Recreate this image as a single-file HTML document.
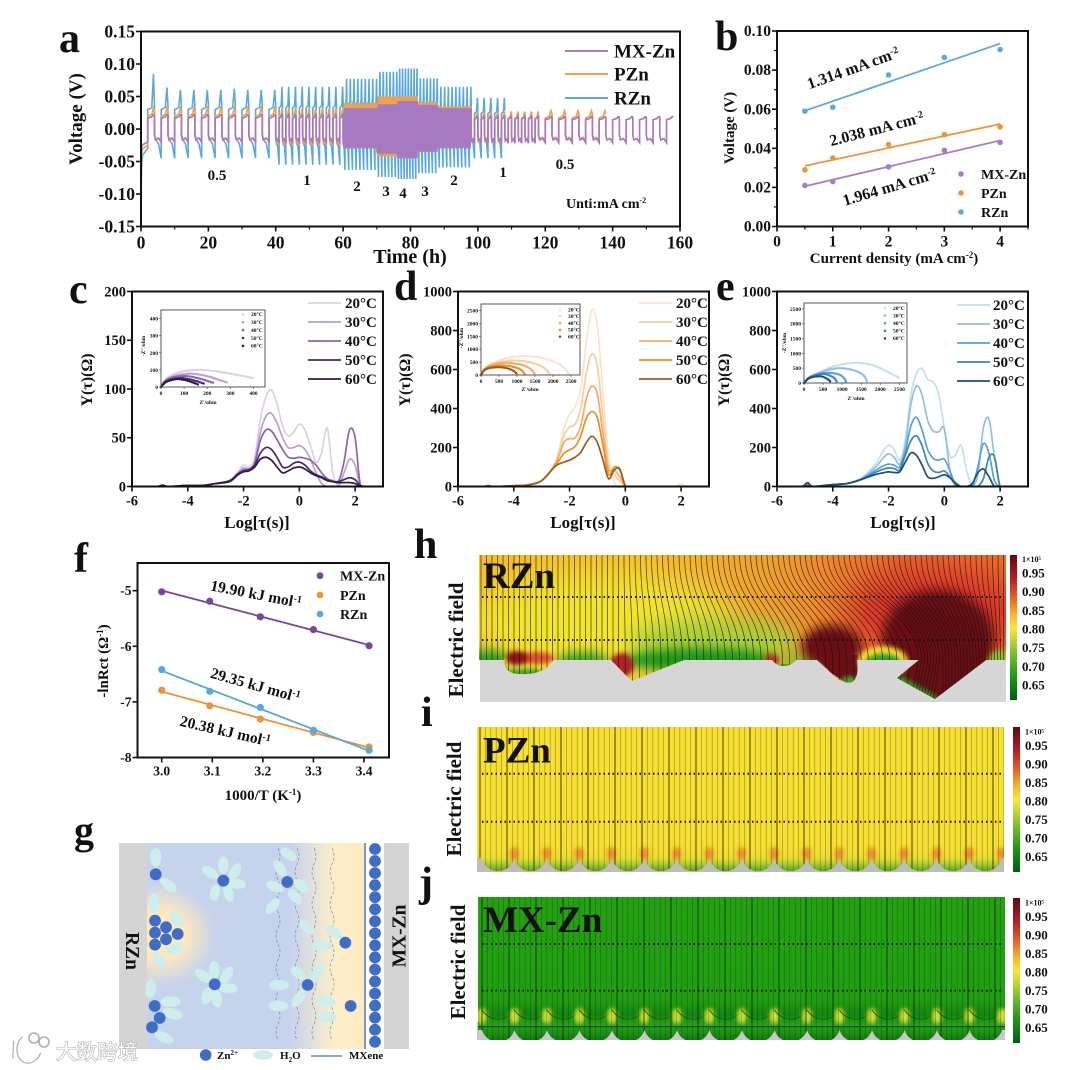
<!DOCTYPE html>
<html lang="en">
<head>
<meta charset="utf-8">
<title>Electrochemical performance figure</title>
<style>
html,body{margin:0;padding:0;background:#fff;}
svg{display:block;font-family:"Liberation Serif","Noto Sans CJK SC",serif;font-weight:bold;fill:#111;}
text{fill:#111;}
</style>
</head>
<body>
<svg id="fig" width="1080" height="1070" viewBox="0 0 1080 1070" xmlns="http://www.w3.org/2000/svg">
<defs>
  <filter id="b2" filterUnits="userSpaceOnUse" x="440" y="520" width="620" height="540"><feGaussianBlur stdDeviation="2"/></filter>
  <filter id="b5" filterUnits="userSpaceOnUse" x="440" y="520" width="620" height="240"><feGaussianBlur stdDeviation="5"/></filter>
  <filter id="b10" filterUnits="userSpaceOnUse" x="440" y="520" width="620" height="240"><feGaussianBlur stdDeviation="10"/></filter>
  <filter id="b16" filterUnits="userSpaceOnUse" x="440" y="500" width="640" height="280"><feGaussianBlur stdDeviation="16"/></filter>
  <linearGradient id="cbar" x1="0" y1="0" x2="0" y2="1">
    <stop offset="0" stop-color="#5e0a10"/><stop offset=".16" stop-color="#b31f26"/><stop offset=".3" stop-color="#e8652a"/>
    <stop offset=".41" stop-color="#f5b52c"/><stop offset=".5" stop-color="#f8e83a"/><stop offset=".6" stop-color="#b8d234"/>
    <stop offset=".72" stop-color="#5fb52c"/><stop offset=".85" stop-color="#1a9412"/><stop offset="1" stop-color="#005c18"/>
  </linearGradient>
  <linearGradient id="h-base" x1="0" y1="0" x2="1" y2="0">
    <stop offset="0" stop-color="#f6bd2c"/><stop offset=".3" stop-color="#f4bf2e"/><stop offset=".55" stop-color="#f0a02e"/>
    <stop offset=".8" stop-color="#ea6a2c"/><stop offset="1" stop-color="#e8702c"/>
  </linearGradient>
  <linearGradient id="i-bowl" x1="0" y1="0" x2="0" y2="1">
    <stop offset="0" stop-color="#f7df33"/><stop offset=".45" stop-color="#ecde33"/><stop offset=".7" stop-color="#a8cc34"/><stop offset="1" stop-color="#4f9f22"/>
  </linearGradient>
  <linearGradient id="j-field" x1="0" y1="0" x2="0" y2="1">
    <stop offset="0" stop-color="#24a012"/><stop offset=".72" stop-color="#229e12"/><stop offset=".82" stop-color="#148510"/><stop offset=".9" stop-color="#2aa518"/><stop offset="1" stop-color="#0f7a10"/>
  </linearGradient>
  <linearGradient id="g-bg" x1="0" y1="0" x2="1" y2="0">
    <stop offset="0" stop-color="#c5d3ec"/><stop offset=".66" stop-color="#c5d3ec"/><stop offset=".86" stop-color="#fdeec9"/><stop offset="1" stop-color="#fdeac0"/>
  </linearGradient>
  <radialGradient id="g-glow"><stop offset="0" stop-color="#ffe9b8"/><stop offset=".45" stop-color="#fde8bd"/><stop offset="1" stop-color="#fde8bd" stop-opacity="0"/></radialGradient>
  <clipPath id="g-clip"><rect x="147" y="843" width="217" height="206"/></clipPath>
  <clipPath id="a-clip"><rect x="141" y="31" width="539" height="196"/></clipPath>
  <clipPath id="c-clip"><rect x="132" y="291" width="251" height="196"/></clipPath>
  <clipPath id="d-clip"><rect x="458" y="291" width="252" height="196"/></clipPath>
  <clipPath id="e-clip"><rect x="777" y="291" width="251" height="196"/></clipPath>
  <clipPath id="h-clip"><path d="M479 555H1006V660H986L935 699L897 678L919 660H857C858 670 858 678 852 682C845 684 838 680 830 672L817 660H796C790 668 778 668 772 660H684L631.5 681L611 660H553C548 670 535 675 520 674C508 674 503 667 505 660H479Z"/></clipPath>
  <clipPath id="i-clip"><path id="i-clip-path" d="M477 727H1004V858H477Z"/></clipPath>
  <clipPath id="j-clip"><path id="j-clip-path" d="M478 897H1005V1030H478Z"/></clipPath>
</defs>

<rect width="1080" height="1070" fill="#fff"/>

<!-- panel letters -->
<g font-size="42">
  <text x="59" y="52">a</text>
  <text x="715" y="50">b</text>
  <text x="69" y="303">c</text>
  <text x="394" y="300">d</text>
  <text x="716" y="300">e</text>
  <text x="74" y="572">f</text>
  <text x="74" y="844" font-size="40">g</text>
  <text x="414" y="558">h</text>
  <text x="421" y="726">i</text>
  <text x="419" y="896">j</text>
</g>

<!-- panel a -->
<g id="panel-a">
  <g id="a-series" clip-path="url(#a-clip)"></g>
  <g id="a-axes"></g>
  <text transform="translate(82,119) rotate(-90)" font-size="19" text-anchor="middle">Voltage (V)</text>
  <text x="410" y="263" font-size="20" text-anchor="middle">Time (h)</text>
  <g font-size="19">
    <line x1="565" x2="608" y1="51" y2="51" stroke="#a87cc4" stroke-width="2"/>
    <text x="614" y="57.5">MX-Zn</text>
    <line x1="565" x2="608" y1="74" y2="74" stroke="#f0a24a" stroke-width="2"/>
    <text x="614" y="80.5">PZn</text>
    <line x1="565" x2="608" y1="98" y2="98" stroke="#5aa9dc" stroke-width="2"/>
    <text x="614" y="104.5">RZn</text>
  </g>
  <g font-size="15" text-anchor="middle">
    <text x="217" y="180">0.5</text>
    <text x="307" y="185">1</text>
    <text x="357" y="191">2</text>
    <text x="386" y="196">3</text>
    <text x="403" y="198">4</text>
    <text x="425" y="196">3</text>
    <text x="454" y="185">2</text>
    <text x="503" y="177">1</text>
    <text x="565" y="169">0.5</text>
  </g>
  <text x="566" y="208" font-size="14">Unti:mA cm<tspan dy="-5" font-size="8">-2</tspan></text>
</g>

<!-- panel b -->
<g id="panel-b">
  <g id="b-series"></g>
  <g id="b-axes"></g>
  <text transform="translate(734,128) rotate(-90)" font-size="15" text-anchor="middle">Voltage (V)</text>
  <text x="894" y="263" font-size="15" text-anchor="middle">Current density (mA cm<tspan dy="-5" font-size="9">-2</tspan><tspan dy="5">)</tspan></text>
  <g font-size="16" text-anchor="middle">
    <text transform="translate(855,73) rotate(-19.6)">1.314 mA cm<tspan dy="-5" font-size="10">-2</tspan></text>
    <text transform="translate(878,134) rotate(-14.5)">2.038 mA cm<tspan dy="-5" font-size="10">-2</tspan></text>
    <text transform="translate(891,192) rotate(-16.6)">1.964 mA cm<tspan dy="-5" font-size="10">-2</tspan></text>
  </g>
  <g font-size="14">
    <circle cx="961" cy="174" r="2.8" fill="#a87cc4"/>
    <text x="981" y="179">MX-Zn</text>
    <circle cx="961" cy="193" r="2.8" fill="#f0923a"/>
    <text x="981" y="198">PZn</text>
    <circle cx="961" cy="212" r="2.8" fill="#5aa9dc"/>
    <text x="981" y="217">RZn</text>
  </g>
</g>

<!-- panel c -->
<g id="panel-c">
  <g id="c-series" clip-path="url(#c-clip)"></g>
  <g id="c-axes"></g>
  <g id="c-inset"></g>
  <text transform="translate(92,380) rotate(-90)" font-size="16" text-anchor="middle">Y(τ)(Ω)</text>
  <text x="257" y="528" font-size="17" text-anchor="middle">Log[τ(s)]</text>
  <text x="208" y="404" font-size="5.5" text-anchor="middle">Z'/ohm</text>
  <text transform="translate(145,346) rotate(-90)" font-size="5.5" text-anchor="middle">-Z''/ohm</text>
</g>

<!-- panel d -->
<g id="panel-d">
  <g id="d-series" clip-path="url(#d-clip)"></g>
  <g id="d-axes"></g>
  <g id="d-inset"></g>
  <text transform="translate(410,380) rotate(-90)" font-size="16" text-anchor="middle">Y(τ)(Ω)</text>
  <text x="583" y="528" font-size="17" text-anchor="middle">Log[τ(s)]</text>
  <text x="530" y="391" font-size="5.5" text-anchor="middle">Z'/ohm</text>
  <text transform="translate(463,338) rotate(-90)" font-size="5.5" text-anchor="middle">-Z''/ohm</text>
</g>

<!-- panel e -->
<g id="panel-e">
  <g id="e-series" clip-path="url(#e-clip)"></g>
  <g id="e-axes"></g>
  <g id="e-inset"></g>
  <text transform="translate(729,380) rotate(-90)" font-size="16" text-anchor="middle">Y(τ)(Ω)</text>
  <text x="903" y="528" font-size="17" text-anchor="middle">Log[τ(s)]</text>
  <text x="856" y="400" font-size="5.5" text-anchor="middle">Z'/ohm</text>
  <text transform="translate(786,343) rotate(-90)" font-size="5.5" text-anchor="middle">-Z''/ohm</text>
</g>

<!-- panel f -->
<g id="panel-f">
  <g id="f-series"></g>
  <g id="f-axes"></g>
  <text transform="translate(108,661) rotate(-90)" font-size="15" text-anchor="middle">-lnRct (Ω<tspan dy="-5" font-size="9">-1</tspan><tspan dy="5">)</tspan></text>
  <text x="263" y="800" font-size="15" text-anchor="middle">1000/T (K<tspan dy="-5" font-size="9">-1</tspan><tspan dy="5">)</tspan></text>
  <g font-size="15.5" text-anchor="middle">
    <text transform="translate(255,599) rotate(11)">19.90 kJ mol<tspan dy="-5" font-size="10">-1</tspan></text>
    <text transform="translate(254,690) rotate(15.7)">29.35 kJ mol<tspan dy="-5" font-size="10">-1</tspan></text>
    <text transform="translate(224,736) rotate(13)">20.38 kJ mol<tspan dy="-5" font-size="10">-1</tspan></text>
  </g>
  <g font-size="14">
    <circle cx="320" cy="575.7" r="3.4" fill="#7a45a0"/>
    <text x="340" y="580.7">MX-Zn</text>
    <circle cx="320" cy="595" r="3.4" fill="#f0923a"/>
    <text x="340" y="600">PZn</text>
    <circle cx="320" cy="614" r="3.4" fill="#5aa9dc"/>
    <text x="340" y="619">RZn</text>
  </g>
</g>

<!-- panel g -->
<g id="panel-g">
  <rect x="119" y="843" width="290" height="206" fill="#d4d4d4"/>
  <rect x="147" y="843" width="217" height="206" fill="url(#g-bg)"/>
  <rect x="366" y="843" width="18" height="206" fill="#fff"/>
  <g clip-path="url(#g-clip)">
    <ellipse cx="160" cy="935" rx="56" ry="52" fill="url(#g-glow)"/>
  </g>
  <g id="g-waves"></g>
  <rect x="364" y="843" width="2" height="206" fill="#7d97c4"/>
  <g id="g-water"></g>
  <g id="g-ions"></g>
  <text transform="translate(126,951) rotate(90)" font-size="19.5" text-anchor="middle">RZn</text>
  <text transform="translate(405.5,936) rotate(-90)" font-size="19.5" text-anchor="middle">MX-Zn</text>
  <g font-size="11">
    <circle cx="205.7" cy="1055" r="5.8" fill="#3f6cc4"/>
    <text x="217" y="1059">Zn<tspan dy="-4" font-size="7">2+</tspan></text>
    <ellipse cx="263" cy="1055" rx="10" ry="4.7" fill="#cdeeea"/>
    <text x="280" y="1059">H<tspan dy="3" font-size="7">2</tspan><tspan dy="-3">O</tspan></text>
    <line x1="311" x2="342" y1="1056" y2="1056" stroke="#4a6fa8" stroke-width="1.2"/>
    <text x="349" y="1059">MXene</text>
  </g>
</g>

<!-- panel h -->
<g id="panel-h">
  <rect x="480" y="660" width="526" height="42" fill="#d6d6d6"/>
  <g clip-path="url(#h-clip)">
    <rect x="479" y="555" width="527" height="150" fill="url(#h-base)"/>
    <ellipse cx="600" cy="622" rx="135" ry="48" fill="#f2e52f" filter="url(#b16)"/>
    <ellipse cx="715" cy="642" rx="85" ry="24" fill="#a8cf38" filter="url(#b10)"/>
    <ellipse cx="935" cy="612" rx="90" ry="44" fill="#d9352a" filter="url(#b16)"/>
    <ellipse cx="700" cy="660" rx="75" ry="12" fill="#1f9a18" filter="url(#b5)"/>
    <ellipse cx="488" cy="660" rx="22" ry="10" fill="#2ca021" filter="url(#b5)"/>
    <ellipse cx="583" cy="661" rx="26" ry="9" fill="#3aa820" filter="url(#b5)"/>
    <ellipse cx="800" cy="660" rx="20" ry="6" fill="#88c030" filter="url(#b5)"/>
    <ellipse cx="832" cy="647" rx="30" ry="22" fill="#6a0f14" filter="url(#b5)"/>
    <ellipse cx="938" cy="640" rx="56" ry="50" fill="#6a0f14" filter="url(#b5)"/>
    <path d="M919 655L897 678L935 699L986 660V640H919Z" fill="#6a0f14"/>
    <path d="M817 655L830 672L848 684L858 680L858 655Z" fill="#6a0f14"/>
    <ellipse cx="528" cy="661" rx="24" ry="11" fill="#f2d82f" filter="url(#b2)"/>
    <ellipse cx="537" cy="658" rx="17" ry="6" fill="#e0552a" filter="url(#b2)"/>
    <ellipse cx="517" cy="658" rx="11" ry="7" fill="#8e1519" filter="url(#b2)"/>
    <ellipse cx="622" cy="665" rx="12" ry="12" fill="#b02028" filter="url(#b2)"/>
    <ellipse cx="772" cy="660" rx="7" ry="6" fill="#c0352a" filter="url(#b2)"/>
    <ellipse cx="883" cy="662" rx="25" ry="16" fill="#f2d82f" filter="url(#b2)"/>
    <ellipse cx="883" cy="663" rx="18" ry="9" fill="#2ca321" filter="url(#b2)"/>
    <ellipse cx="1000" cy="660" rx="11" ry="10" fill="#8cc030" filter="url(#b2)"/>
    <ellipse cx="525" cy="673" rx="20" ry="4" fill="#3aa820" filter="url(#b2)"/>
    <ellipse cx="785" cy="667" rx="10" ry="3" fill="#3aa820"/>
    <ellipse cx="850" cy="681" rx="9" ry="4.5" fill="#4aa828" filter="url(#b2)"/>
    <line x1="897" y1="678" x2="935" y2="699" stroke="#2a9f20" stroke-width="7" filter="url(#b2)"/>
    <g id="h-lines"></g>
  </g>
  <line x1="482" x2="1003" y1="597" y2="597" stroke="#111" stroke-width="2" stroke-dasharray="1.5 3"/>
  <line x1="482" x2="1003" y1="640" y2="640" stroke="#111" stroke-width="2" stroke-dasharray="1.5 3"/>
  <text x="483" y="588" font-size="37">RZn</text>
  <text transform="translate(463,640) rotate(-90)" font-size="21" text-anchor="middle">Electric field</text>
  <rect x="1010" y="555" width="7" height="145" fill="url(#cbar)"/>
  <g id="h-cbar"></g>
</g>

<!-- panel i -->
<g id="panel-i">
  <rect x="477" y="850" width="527" height="22" fill="#bdbdbd"/>
  <g clip-path="url(#i-clip)">
    <rect x="477" y="727" width="527" height="145" fill="#f7df33"/>
    <rect x="477" y="846" width="527" height="26" fill="url(#i-bowl)"/>
    <g id="i-glow"></g>
    <g id="i-lines"></g>
  </g>
  <line x1="482" x2="1001" y1="773.7" y2="773.7" stroke="#111" stroke-width="2" stroke-dasharray="1.5 3"/>
  <line x1="482" x2="1001" y1="821.7" y2="821.7" stroke="#111" stroke-width="2" stroke-dasharray="1.5 3"/>
  <text x="483" y="762.7" font-size="37">PZn</text>
  <text transform="translate(461,799) rotate(-90)" font-size="21" text-anchor="middle">Electric field</text>
  <rect x="1013" y="727" width="7" height="145" fill="url(#cbar)"/>
  <g id="i-cbar"></g>
</g>

<!-- panel j -->
<g id="panel-j">
  <rect x="477" y="1022" width="528" height="18" fill="#c8c8c8"/>
  <g clip-path="url(#j-clip)">
    <rect x="478" y="897" width="527" height="143" fill="url(#j-field)"/>
    <g id="j-glow"></g>
    <g id="j-lines"></g>
    <line x1="478" x2="1005" y1="1026.7" y2="1026.7" stroke="#0a3a0a" stroke-width="1"/>
  </g>
  <line x1="482" x2="1003" y1="944" y2="944" stroke="#111" stroke-width="2" stroke-dasharray="1.5 3"/>
  <line x1="482" x2="1003" y1="990.7" y2="990.7" stroke="#111" stroke-width="2" stroke-dasharray="1.5 3"/>
  <text x="483" y="932" font-size="37">MX-Zn</text>
  <text transform="translate(465,962) rotate(-90)" font-size="21" text-anchor="middle">Electric field</text>
  <rect x="1013" y="898" width="7" height="145" fill="url(#cbar)"/>
  <g id="j-cbar"></g>
</g>

<!-- watermark -->
<g opacity=".95">
  <path d="M13 1040L12 1058M22 1036C14 1042 14 1058 24 1062C32 1064 38 1058 40 1052" fill="none" stroke="#fff" stroke-width="4"/>
  <path d="M13 1040L12 1058M22 1036C14 1042 14 1058 24 1062C32 1064 38 1058 40 1052" fill="none" stroke="#aaa" stroke-width="1.2" transform="translate(.7,.7)"/>
  <circle cx="34" cy="1038" r="5" fill="none" stroke="#aaa" stroke-width="1.6"/>
  <circle cx="44" cy="1042" r="5" fill="none" stroke="#aaa" stroke-width="1.6"/>
  <text x="56" y="1059" font-size="20.5" font-family="'Liberation Sans','Noto Sans CJK SC',sans-serif" font-weight="normal" style="fill:#fff;stroke:#a8a8a8;stroke-width:1.1;paint-order:stroke">大数跨境</text>
</g>

<script>
/* ---------- panel a data ---------- */
const aXTickLabels = ['0','20','40','60','80','100','120','140','160'];
const aYTickLabels = ['0.15','0.10','0.05','0.00','-0.05','-0.10','-0.15'];
const segStart  = [0, 40, 60, 70, 76, 82, 88, 98, 118];
const segEnd    = [40, 60, 70, 76, 82, 88, 98, 118, 158];
const rznPeriod = [4, 2, 1.15, 1, 0.85, 1, 1.15, 2, 4];
const densePeriod = [4, 2, 0.6, 0.5, 0.4, 0.5, 0.6, 2, 4];
const rznPos = [0.060,0.065,0.077,0.088,0.093,0.078,0.065,0.048,0];
const rznNeg = [-0.045,-0.055,-0.063,-0.074,-0.077,-0.068,-0.059,-0.045,0];
const pznPos = [0.032,0.032,0.040,0.050,0.050,0.041,0.035,0.027,0.028];
const pznNeg = [-0.020,-0.025,-0.030,-0.042,-0.045,-0.035,-0.030,-0.022,-0.018];
const mxPos  = [0.022,0.022,0.032,0.038,0.043,0.037,0.032,0.020,0.019];
const mxNeg  = [-0.020,-0.022,-0.030,-0.038,-0.045,-0.035,-0.030,-0.022,-0.021];
const rznFirstPeaks = [0.085,0.064,0.060,0.060,0.060,0.060,0.062,0.060,0.060,0.060];
const rznInitT = [0,0.15,0.5,2];
const rznInitV = [-0.135,-0.06,-0.04,-0.03];
const pznInitT = [0,0.15,0.5,2];
const pznInitV = [-0.10,-0.04,-0.03,-0.025];
const mxInitT  = [0,0.15,0.5,2];
const mxInitV  = [-0.05,-0.028,-0.024,-0.02];
const halfPhase = [0,0.15,0.6,1];
const plateauPhase = [0,0.6,0.85,1];
const rznNegShape = [0.2,0.35,0.5,1];
const rznPosShape = [0.5,0.55,1,0.6];
const pznNegShape = [0.45,0.85,0.7,1];
const pznPosShape = [0.6,0.7,1,0.85];
const mxNegShape  = [0.45,0.8,0.7,1];
const mxPosShape  = [0.75,0.85,1,0.95];
const rznEndTime = 108, pznEndTime = 138, mxEndTime = 158;

/* ---------- panel b data ---------- */
const bCurrent = [0.5,1,2,3,4];
const bRzn = [0.059,0.061,0.0775,0.0865,0.0905];
const bPzn = [0.029,0.035,0.042,0.047,0.051];
const bMx  = [0.021,0.023,0.0305,0.039,0.043];
const bXTickLabels = ['0','1','2','3','4'];
const bYTickLabels = ['0.00','0.02','0.04','0.06','0.08','0.10'];

/* ---------- panels c/d/e data ---------- */
const tauGrid = [-5.5,-5.1,-4.9,-4.7,-4,-3.5,-3,-2.5,-2.2,-2,-1.8,-1.6,-1.4,-1.2,-1,-0.8,-0.6,-0.4,-0.2,0,0.2,0.4,0.6,0.8,1,1.2,1.4,1.6,1.8,2,2.2,2.5];
const drtXTickLabels = ['-6','-4','-2','0','2'];
const cYTickLabels = ['0','50','100','150','200'];
const dYTickLabels = ['0','200','400','600','800','1000'];
const c20 = [0,0,1,0,1,1,3,6,15,22,20,30,68,92,99,85,62,52,56,64,58,42,25,35,60,15,0,0,0,0,0,0];
const c30 = [0,0,1,0,1,1,3,6,14,19,18,25,55,72,75,65,50,40,40,42,38,28,14,3,0,0,0,14,28,22,0,0];
const c40 = [0,0,1,0,1,1,3,6,13,17,18,24,47,58,57,48,38,30,29,30,29,27,22,14,8,6,5,25,58,50,0,0];
const c50 = [0,0,1.5,0,1,1,3,6,13,16,17,22,34,40,38,30,20,20,24,25,22,16,12,10,7,5,5,7,9,7,1,0];
const c60 = [0,0,1,0,1,1,3,5,12,15,16,20,28,30,27,20,14,16,19,20,18,14,11,9,6,5,4,4,4,3,0,0];
const d20 = [0,0,5,0,5,8,32,130,300,370,410,500,740,905,820,470,150,20,0,0,0,0,0,0,0,0,0,0,0,15,0,0];
const d30 = [0,0,4,0,4,8,32,125,260,305,320,400,580,680,610,350,110,60,30,0,0,0,0,0,0,0,0,0,0,3,0,0];
const d40 = [0,0,4,0,4,8,30,118,225,245,250,310,450,515,470,270,90,85,50,3,0,0,0,0,0,0,0,0,0,0,0,0];
const d50 = [0,0,4,0,4,8,30,110,170,188,205,260,350,385,350,210,62,100,85,5,0,0,0,0,0,0,0,0,0,0,0,0];
const d60 = [0,0,4,0,4,8,30,105,125,135,150,175,225,258,225,135,40,85,90,3,0,0,0,0,0,0,0,0,0,0,0,0];
const e20 = [0,0,6,0,8,15,40,110,180,212,190,135,240,470,580,605,550,535,470,300,160,160,210,80,0,0,0,0,0,0,0,0];
const e30 = [0,0,6,0,8,15,40,95,145,168,150,115,210,420,515,470,340,285,280,295,80,0,0,0,0,60,300,345,150,0,0,0];
const e40 = [0,0,8,0,10,15,35,80,105,115,110,100,180,310,355,290,190,145,135,140,80,10,0,0,0,100,220,170,30,0,0,0];
const e50 = [0,0,10,0,10,15,35,70,88,95,92,85,160,235,260,210,120,80,72,80,50,20,0,0,0,0,40,150,150,0,0,0];
const e60 = [0,0,20,0,10,15,35,60,70,75,72,75,125,172,160,110,50,42,50,60,45,15,0,0,15,70,90,50,0,0,0,0];
const tempLabels = ['20°C','30°C','40°C','50°C','60°C'];
const cColors = ['#dccfe8','#bb9ed2','#8b63ad','#4a2a70','#2e1a4a'];
const dColors = ['#fbe3cb','#f8cda2','#f4ab66','#e98f22','#9a5a1e'];
const eColors = ['#c3dff0','#8fc1e0','#55a2d6','#3d84b3','#1e4e75'];

/* ---------- nyquist insets ---------- */
const cZ20x=[0,20,50,90,130,170,220,270,320,370,405], cZ20y=[0,45,72,90,98,100,95,85,73,60,50];
const cZ30x=[0,20,50,90,130,170,210,250,290], cZ30y=[0,38,60,74,78,72,60,42,25];
const cZ40x=[0,20,50,100,140,180,225], cZ40y=[0,36,55,64,58,44,25];
const cZ50x=[0,20,50,85,120,155,185], cZ50y=[0,30,46,52,46,34,20];
const cZ60x=[0,20,50,75,105,135,160], cZ60y=[0,28,42,46,40,28,15];
const dZ20x=[0,150,400,800,1250,1700,2100,2350,2450], dZ20y=[0,300,500,680,730,660,470,220,0];
const dZ30x=[0,120,320,650,950,1300,1650,1850,1900], dZ30y=[0,260,420,530,560,510,360,150,0];
const dZ40x=[0,100,260,500,750,1050,1300,1450,1500], dZ40y=[0,230,360,450,470,420,300,130,0];
const dZ50x=[0,90,220,420,620,850,1080,1190,1220], dZ50y=[0,190,300,360,370,330,230,90,0];
const dZ60x=[0,80,190,350,500,700,880,980,1000], dZ60y=[0,170,250,290,300,270,180,70,0];
const eZ20x=[0,150,400,800,1350,1800,2200,2500], eZ20y=[0,200,350,570,680,600,370,170];
const eZ30x=[0,120,300,600,950,1300,1550,1650], eZ30y=[0,170,290,430,500,430,270,60];
const eZ40x=[0,100,250,450,700,950,1080,1100], eZ40y=[0,150,250,320,340,270,110,30];
const eZ50x=[0,90,200,380,560,760,840,860], eZ50y=[0,130,220,290,300,200,90,20];
const eZ60x=[0,80,170,320,470,620,690,700], eZ60y=[0,110,180,220,220,130,50,10];
const cInsetXLabels=['0','100','200','300','400'], cInsetYLabels=['0','100','200','300','400'];
const dInsetXLabels=['0','500','1000','1500','2000','2500'], dInsetYLabels=['0','500','1000','1500','2000','2500'];

/* ---------- panel f data ---------- */
const fInvT = [3.0,3.095,3.195,3.3,3.41];
const fMx  = [-5.02,-5.19,-5.47,-5.70,-5.99];
const fPzn = [-6.79,-7.07,-7.31,-7.55,-7.81];
const fRzn = [-6.42,-6.81,-7.10,-7.51,-7.87];
const fXTickLabels = ['3.0','3.1','3.2','3.3','3.4'];
const fYTickLabels = ['-5','-6','-7','-8'];

const cbarLabels = ['0.95','0.90','0.85','0.80','0.75','0.70','0.65'];

const NS = 'http://www.w3.org/2000/svg';
function add(parent, tag, attrs, text) {
  const el = document.createElementNS(NS, tag);
  for (const k in attrs) el.setAttribute(k, attrs[k]);
  if (text !== undefined) el.textContent = text;
  parent.appendChild(el);
  return el;
}
function $(id) { return document.getElementById(id); }
function linear(d0, d1, r0, r1) { return v => r0 + (v - d0) / (d1 - d0) * (r1 - r0); }

function drawAxes(g, box, sx, sy, xLabels, yLabels, xMinor, yMinor, fs, prefix) {
  const frame = add(g, 'rect', {x:box.x0, y:box.y0, width:box.x1-box.x0, height:box.y1-box.y0, fill:'none', stroke:'#111', 'stroke-width':2});
  
  
  xLabels.forEach(l => {
    const v = parseFloat(l), x = sx(v);
    const t = add(g, 'line', {x1:x, x2:x, y1:box.y1, y2:box.y1+5, stroke:'#111', 'stroke-width':1.6});
    
    
    const lab = add(g, 'text', {x:x, y:box.y1+6+fs*0.9, 'text-anchor':'middle', 'font-size':fs}, l);
    
    
  });
  yLabels.forEach(l => {
    const v = parseFloat(l), y = sy(v);
    const t = add(g, 'line', {x1:box.x0-5, x2:box.x0, y1:y, y2:y, stroke:'#111', 'stroke-width':1.6});
    
    
    const lab = add(g, 'text', {x:box.x0-6, y:y+fs*0.33, 'text-anchor':'end', 'font-size':fs}, l);
    
    
  });
  (xMinor||[]).forEach(v => {
    const x = sx(v);
    const t = add(g, 'line', {x1:x, x2:x, y1:box.y1, y2:box.y1+3, stroke:'#111', 'stroke-width':1.2});
    
    
  });
  (yMinor||[]).forEach(v => {
    const y = sy(v);
    const t = add(g, 'line', {x1:box.x0-3, x2:box.x0, y1:y, y2:y, stroke:'#111', 'stroke-width':1.2});
    
    
  });
}

function smoothPath(pts) {
  let d = 'M' + pts[0][0].toFixed(2) + ' ' + pts[0][1].toFixed(2);
  for (let i = 0; i < pts.length - 1; i++) {
    const p0 = pts[Math.max(0,i-1)], p1 = pts[i], p2 = pts[i+1], p3 = pts[Math.min(pts.length-1,i+2)];
    const c1x = p1[0] + (p2[0]-p0[0])/6, c1y = p1[1] + (p2[1]-p0[1])/6;
    const c2x = p2[0] - (p3[0]-p1[0])/6, c2y = p2[1] - (p3[1]-p1[1])/6;
    d += 'C' + c1x.toFixed(2) + ' ' + c1y.toFixed(2) + ' ' + c2x.toFixed(2) + ' ' + c2y.toFixed(2) + ' ' + p2[0].toFixed(2) + ' ' + p2[1].toFixed(2);
  }
  return d;
}

/* ---------- panel a ---------- */
(function () {
  const box = {x0:141, x1:680, y0:31.5, y1:226.5};
  const sx = linear(0, 160, box.x0, box.x1), sy = linear(-0.15, 0.15, box.y1, box.y0);
  function build(period, pos, neg, posShape, negShape, initT, initV, endT, firstPeaks) {
    const pts = initT.map((t,i) => [t, initV[i]]);
    segStart.forEach((s, i) => {
      const n = Math.round((segEnd[i]-s)/period[i]), p = (segEnd[i]-s)/n;
      for (let c = 0; c < n; c++) {
        const t0 = s + c*p;
        if (t0 >= endT) return;
        if (!(i === 0 && c === 0)) halfPhase.forEach((ph, k) => pts.push([t0 + ph*p/2, neg[i]*negShape[k]]));
        if (t0 + p/2 >= endT) return;
        const peak = (i === 0 && firstPeaks) ? firstPeaks[c] : pos[i];
        plateauPhase.forEach((ph, k) => {
          const plateau = k === 2 ? peak : pos[i]*posShape[k];
          pts.push([t0 + p/2 + ph*p/2, plateau]);
        });
      }
    });
    return pts.map(q => sx(q[0]).toFixed(2) + ',' + sy(q[1]).toFixed(2)).join(' ');
  }
  const g = $('a-series');
  const r = add(g, 'polyline', {points:build(rznPeriod,rznPos,rznNeg,rznPosShape,rznNegShape,rznInitT,rznInitV,rznEndTime,rznFirstPeaks), fill:'none', stroke:'#5aa9dc', 'stroke-width':1.6});
  
  
  const p = add(g, 'polyline', {points:build(densePeriod,pznPos,pznNeg,pznPosShape,pznNegShape,pznInitT,pznInitV,pznEndTime,null), fill:'none', stroke:'#f0a24a', 'stroke-width':1.7});
  
  
  const m = add(g, 'polyline', {points:build(densePeriod,mxPos,mxNeg,mxPosShape,mxNegShape,mxInitT,mxInitV,mxEndTime,null), fill:'none', stroke:'#a57ac2', 'stroke-width':1.7});
  
  
  drawAxes($('a-axes'), box, sx, sy, aXTickLabels, aYTickLabels, [10,30,50,70,90,110,130,150], [], 17.5, 'voltage');
})();

/* ---------- panel b ---------- */
(function () {
  const box = {x0:777, x1:1028, y0:31, y1:226.5};
  const sx = linear(0, 4.5, box.x0, box.x1), sy = linear(0, 0.1, box.y1, box.y0);
  const g = $('b-series');
  function fit(ys) {
    const n = bCurrent.length, mx = bCurrent.reduce((a,b)=>a+b)/n, my = ys.reduce((a,b)=>a+b)/n;
    let num = 0, den = 0;
    bCurrent.forEach((x,i) => { num += (x-mx)*(ys[i]-my); den += (x-mx)*(x-mx); });
    const m = num/den;
    return x => my + m*(x-mx);
  }
  [[bMx,'#a87cc4','mx-zn'],[bPzn,'#f0923a','pzn'],[bRzn,'#5aa9dc','rzn']].forEach(s => {
    const f = fit(s[0]);
    const l = add(g, 'line', {x1:sx(0.5), y1:sy(f(0.5)), x2:sx(4), y2:sy(f(4)), stroke:s[1], 'stroke-width':1.8});
    
    
    s[0].forEach((v,i) => {
      const c = add(g, 'circle', {cx:sx(bCurrent[i]), cy:sy(v), r:2.8, fill:s[1]});
      
      
    });
  });
  drawAxes($('b-axes'), box, sx, sy, bXTickLabels, bYTickLabels, [0.5,1.5,2.5,3.5,4.5], [0.01,0.03,0.05,0.07,0.09], 15.5, 'overpotential');
})();

/* ---------- panels c/d/e ---------- */
function drawDrt(seriesId, axesId, x0, yLabels, yMax, series, colors, legendLine, legendText, legendY) {
  const box = {x0:x0, x1:x0+251, y0:291.5, y1:486.5};
  const sx = linear(-6, 3, box.x0, box.x1), sy = linear(0, yMax, box.y1, box.y0);
  const g = $(seriesId);
  series.forEach((vals, i) => {
    const pts = tauGrid.map((t,k) => [sx(t), sy(vals[k])]);
    const p = add(g, 'path', {d:smoothPath(pts), fill:'none', stroke:colors[i], 'stroke-width':1.7});
    
    
  });
  const ax = $(axesId);
  drawAxes(ax, box, sx, sy, drtXTickLabels, yLabels, [], [], 14.5, 'drt');
  tempLabels.forEach((lab, i) => {
    const y = legendY + i*19;
    const l = add(ax, 'line', {x1:legendLine, x2:legendLine+33, y1:y, y2:y, stroke:colors[i], 'stroke-width':1.8});
    
    
    const t = add(ax, 'text', {x:legendText, y:y+5, 'font-size':15}, lab);
    
    
  });
}
drawDrt('c-series','c-axes',132,cYTickLabels,200,[c20,c30,c40,c50,c60],cColors,308,345,303);
drawDrt('d-series','d-axes',458,dYTickLabels,1000,[d20,d30,d40,d50,d60],dColors,639,676,303);
drawDrt('e-series','e-axes',777,dYTickLabels,1000,[e20,e30,e40,e50,e60],eColors,957,993,305);

function drawInset(gId, box, xMax, yMax, xLabels, yLabels, xs, ys, colors, legendX, legendY0, legendStep) {
  const g = $(gId);
  const sx = linear(0, xMax, box.x0, box.x1), sy = linear(0, yMax, box.y1, box.y0);
  xs.forEach((arr, i) => {
    const pts = arr.map((v,k) => [sx(v), sy(ys[i][k])]);
    const p = add(g, 'path', {d:smoothPath(pts), fill:'none', stroke:colors[i], 'stroke-width':2.4, 'stroke-linecap':'round', 'stroke-dasharray':'0.1 2'});
    
    
    const d = add(g, 'circle', {cx:legendX, cy:legendY0+i*legendStep, r:1.3, fill:colors[i]});
    
    
    const t = add(g, 'text', {x:legendX+8, y:legendY0+i*legendStep+1.8, 'font-size':5.5}, tempLabels[i]);
    
    
  });
  const f = add(g, 'rect', {x:box.x0, y:box.y0, width:box.x1-box.x0, height:box.y1-box.y0, fill:'none', stroke:'#555', 'stroke-width':1});
  
  
  xLabels.forEach(l => {
    const x = sx(parseFloat(l));
    const t = add(g, 'line', {x1:x, x2:x, y1:box.y1, y2:box.y1+2, stroke:'#555', 'stroke-width':.7});
    
    
    const lab = add(g, 'text', {x:x, y:box.y1+8, 'text-anchor':'middle', 'font-size':5.5}, l);
    
    
  });
  yLabels.forEach(l => {
    const y = sy(parseFloat(l));
    const t = add(g, 'line', {x1:box.x0-2, x2:box.x0, y1:y, y2:y, stroke:'#555', 'stroke-width':.7});
    
    
    const lab = add(g, 'text', {x:box.x0-3, y:y+2, 'text-anchor':'end', 'font-size':5.5}, l);
    
    
  });
}
drawInset('c-inset',{x0:161,x1:265,y0:310,y1:387},450,450,cInsetXLabels,cInsetYLabels,[cZ20x,cZ30x,cZ40x,cZ50x,cZ60x],[cZ20y,cZ30y,cZ40y,cZ50y,cZ60y],cColors,243,314.3,7.9);
drawInset('d-inset',{x0:481,x1:580,y0:304,y1:375},2750,2750,dInsetXLabels,dInsetYLabels,[dZ20x,dZ30x,dZ40x,dZ50x,dZ60x],[dZ20y,dZ30y,dZ40y,dZ50y,dZ60y],dColors,560,309.5,6.8);
drawInset('e-inset',{x0:804,x1:907,y0:303,y1:383},2700,2700,dInsetXLabels,dInsetYLabels,[eZ20x,eZ30x,eZ40x,eZ50x,eZ60x],[eZ20y,eZ30y,eZ40y,eZ50y,eZ60y],eColors,885,308,7.6);

/* ---------- panel f ---------- */
(function () {
  const box = {x0:137.5, x1:389, y0:563, y1:757.5};
  const sx = linear(3.0, 3.4, 161.7, 364), sy = linear(-5, -8, 590.7, 757.5);
  const g = $('f-series');
  function fit(ys) {
    const n = fInvT.length, mx = fInvT.reduce((a,b)=>a+b)/n, my = ys.reduce((a,b)=>a+b)/n;
    let num = 0, den = 0;
    fInvT.forEach((x,i) => { num += (x-mx)*(ys[i]-my); den += (x-mx)*(x-mx); });
    const m = num/den;
    return x => my + m*(x-mx);
  }
  [[fMx,'#7a45a0','mx-zn'],[fPzn,'#f0923a','pzn'],[fRzn,'#5aa9dc','rzn']].forEach(s => {
    const f = fit(s[0]);
    const l = add(g, 'line', {x1:sx(3.0), y1:sy(f(3.0)), x2:sx(3.41), y2:sy(f(3.41)), stroke:s[1], 'stroke-width':1.8});
    
    
    s[0].forEach((v,i) => {
      const c = add(g, 'circle', {cx:sx(fInvT[i]), cy:sy(v), r:3.6, fill:s[1]});
      
      
    });
  });
  drawAxes($('f-axes'), box, sx, sy, fXTickLabels, fYTickLabels, [], [], 13.5, 'arrhenius');
})();

/* ---------- panel g schematic ---------- */
(function () {
  const zx = v => v/3 + 60, zy = v => v/3 + 820;
  const water = [[287,112,15,28,0],[325,195,30,13,40],[283,250,14,29,0],[350,298,28,13,45],[345,386,28,13,-30],[298,420,28,13,50],[272,506,14,29,5],[332,545,30,14,0],[338,581,30,14,15],[312,652,30,13,25],
    [490,135,14,26,0],[452,158,28,13,35],[525,155,13,28,30],[530,192,28,13,5],[505,218,13,28,-15],[465,218,13,25,10],
    [660,145,28,13,55],[645,200,28,13,20],[725,198,28,13,40],[705,230,28,13,50],[638,258,13,28,40],[685,103,28,13,35],
    [740,322,28,13,45],[822,337,28,13,35],[785,378,30,14,0],
    [463,450,14,27,0],[430,468,30,13,35],[500,465,13,28,30],[505,505,28,13,5],[470,535,14,27,-10],[440,528,13,27,15],
    [715,460,28,13,40],[770,460,13,30,35],[716,535,13,30,35],[657,495,30,14,0],[655,558,30,14,0],[798,544,30,14,10],[800,591,30,14,0]];
  const ions = [[287,163],[490,182],[682,186],[285,302],[285,338],[285,374],[318,322],[318,358],[353,342],[856,368],[464,493],[743,495],[872,558],[284,558],[299,594],[276,622]];
  const gw = $('g-water');
  water.forEach(w => {
    const rx = w[2] < w[3] ? w[2]*1.15 : w[2], ry = w[3] < w[2] ? w[3]*1.15 : w[3];
    const e = add(gw, 'ellipse', {cx:0, cy:0, rx:rx/3, ry:ry/3, fill:'#cdeeea', transform:'translate(' + zx(w[0]) + ',' + zy(w[1]) + ') rotate(' + w[4] + ')'});
    
    
  });
  const gi = $('g-ions');
  ions.forEach(c => {
    const e = add(gi, 'circle', {cx:zx(c[0]), cy:zy(c[1]), r:5.9, fill:'#3f6cc4'});
    
    
  });
  for (let i = 0; i < 17; i++) {
    const e = add(gi, 'circle', {cx:375, cy:849 + i*12.05, r:5.9, fill:'#3f6cc4'});
    
    
  }
  const gv = $('g-waves');
  [278,297,314,332].forEach(x => {
    let d = 'M' + x + ' 848';
    for (let y = 848; y < 1040; y += 32) d += 'q4 8 0 16q-4 8 0 16';
    const p = add(gv, 'path', {d:d, fill:'none', stroke:'#7488ab', 'stroke-width':.7, 'stroke-dasharray':'3 2'});
    
    
  });
})();

/* ---------- field maps ---------- */
(function () {
  /* h streamlines */
  const hl = $('h-lines');
  for (let t = 481; t < 1006; t += 5.5) {
    let e = t;
    if (t >= 620 && t < 850) e = t + (t-620)*0.3;
    else if (t >= 850) e = 919 + (t-850)*0.55;
    const mid = 555 + 45;
    const p = add(hl, 'path', {d:'M' + t + ' 555C' + t + ' ' + mid + ' ' + e + ' ' + (mid+10) + ' ' + e + ' 660L' + (e + (e>880&&e<940?-8:0)) + ' 705', fill:'none', stroke:'#1a1208', 'stroke-width':.7, 'stroke-opacity':.8});
    
    
  }
  /* scallops */
  const iCusp = 858, jCusp = 1030;
  let di = 'M477 727H1004V' + iCusp + 'L1001.7 ' + iCusp, dj = 'M478 897H1005V' + jCusp + 'L1002 ' + jCusp;
  for (let k = 16; k > 0; k--) {
    di += 'A16.6 16.6 0 0 1 ' + (481.7 + (k-1)*32.5) + ' ' + iCusp;
    dj += 'A17 17 0 0 1 ' + (482 + (k-1)*32.5) + ' ' + jCusp;
  }
  di += 'L477 ' + iCusp + 'Z';
  dj += 'L478 ' + jCusp + 'Z';
  $('i-clip-path').setAttribute('d', di);
  $('j-clip-path').setAttribute('d', dj);
  const ig = $('i-glow'), jg = $('j-glow');
  for (let k = 1; k <= 16; k++) {
    const a = add(ig, 'ellipse', {cx:481.7+k*32.5, cy:854, rx:4.5, ry:7, fill:'#ee8a2a', filter:'url(#b2)'});
    
    
  }
  for (let k = 0; k <= 16; k++) {
    const c = 482 + k*32.5;
    const a = add(jg, 'ellipse', {cx:c, cy:1016, rx:5, ry:8, fill:'#d6e034', filter:'url(#b2)'});
    
    
    if (k < 16) {
      const arc = add(jg, 'path', {d:'M' + c + ' 1010A19 19 0 0 0 ' + (c+32.5) + ' 1010', fill:'none', stroke:'#0c5a0c', 'stroke-width':.8});
      
      
    }
  }
  [['i-lines',477,1004,727,872,'pzn'],['j-lines',479,1005,897,1040,'mx-zn']].forEach(s => {
    const g = $(s[0]);
    let n = 0;
    for (let t = s[1]+3; t < s[2]; t += 5.4) {
      const wide = n % 5 === 0;
      const p = add(g, 'line', {x1:t, x2:t, y1:s[3], y2:s[4], stroke:s[5]==='pzn' ? '#2a2208' : '#08320a', 'stroke-width':wide ? 1 : .6, 'stroke-opacity':wide ? .85 : .45});
      
      
      n++;
    }
  });
  /* colourbar labels */
  [['h-cbar',1022,573,18.67,1019],['i-cbar',1025,745.7,18.5,1022],['j-cbar',1025,916.7,18.5,1022]].forEach(s => {
    const g = $(s[0]);
    cbarLabels.forEach((l,i) => {
      const t = add(g, 'text', {x:s[1], y:s[2]+i*s[3]+4.5, 'font-size':13}, l);
      
      
    });
    const top = add(g, 'text', {x:s[1], y:s[2]-11, 'font-size':8}, '1×10⁵');
    
    
  });
})();
</script>
</svg>
</body>
</html>
